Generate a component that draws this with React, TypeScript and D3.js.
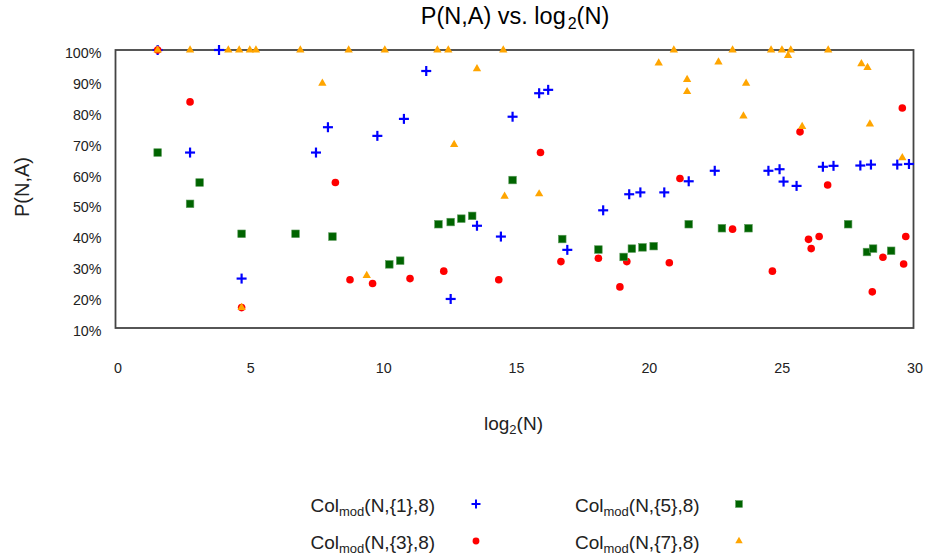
import React from "react";
import * as d3 from "d3";

const xTicks = [0, 5, 10, 15, 20, 25, 30];
const yTicks = [10, 20, 30, 40, 50, 60, 70, 80, 90, 100];

const s1X = [1.53, 3.84, 2.75, 4.69, 7.49, 7.94, 9.8, 10.8, 11.64, 12.56, 13.55, 14.45, 14.89, 15.89, 16.23, 16.95, 18.3, 19.28, 19.7, 20.6, 21.52, 22.5, 24.52, 24.94, 25.09, 25.58, 26.57, 26.97, 27.98, 28.38, 29.37, 29.81];
const s1Y = [100, 100, 66.8, 26.0, 66.8, 75.0, 72.2, 77.7, 93.2, 19.4, 43.1, 39.6, 78.4, 86.0, 87.1, 35.3, 48.1, 53.3, 53.9, 53.9, 57.5, 60.9, 60.9, 61.4, 57.4, 56.0, 62.2, 62.5, 62.6, 62.9, 62.9, 63.1];

const s3X = [1.53, 2.75, 4.69, 8.22, 8.77, 9.62, 11.03, 12.3, 14.37, 15.94, 16.71, 18.12, 18.93, 19.19, 20.79, 21.19, 23.17, 24.67, 25.71, 26.03, 26.13, 26.43, 26.75, 28.43, 28.83, 29.56, 29.69, 29.61];
const s3Y = [100, 83.2, 16.6, 57.1, 25.6, 24.4, 26.0, 28.4, 25.6, 66.8, 31.5, 32.6, 23.3, 31.5, 31.1, 58.4, 42.0, 28.4, 73.5, 38.7, 35.7, 39.6, 56.3, 21.7, 32.9, 81.2, 39.6, 30.7];

const s5X = [1.53, 2.75, 3.11, 4.69, 6.72, 8.11, 10.25, 10.66, 12.1, 12.56, 12.96, 13.37, 14.89, 16.76, 18.12, 19.07, 19.38, 19.78, 20.2, 21.52, 22.77, 23.77, 27.52, 28.23, 28.46, 29.14];
const s5Y = [66.8, 50.2, 57.1, 40.5, 40.5, 39.6, 30.6, 31.8, 43.6, 44.3, 45.4, 46.3, 57.9, 38.8, 35.4, 33.0, 35.7, 36.1, 36.5, 43.6, 42.3, 42.3, 43.6, 34.6, 35.7, 35.0];

const s7X = [1.53, 2.75, 4.19, 4.6, 5.0, 5.23, 6.9, 8.72, 10.08, 12.06, 12.47, 14.54, 20.96, 23.17, 24.62, 25.03, 25.36, 26.77, 7.73, 13.55, 12.69, 14.59, 9.4, 15.89, 20.39, 21.46, 21.46, 22.64, 23.68, 23.58, 25.79, 28.02, 28.25, 28.34, 29.56, 25.26, 4.69];
const s7Y = [100, 100, 100, 100, 100, 100, 100, 100, 100, 100, 100, 100, 100, 100, 100, 100, 100, 100, 89.2, 93.9, 69.4, 52.6, 27.0, 53.4, 95.8, 90.4, 86.5, 96.1, 89.2, 78.6, 75.2, 95.5, 94.3, 76.0, 65.1, 98.2, 16.6];

const seriesNames = ["{1}", "{3}", "{5}", "{7}"];
const seriesColors = ["#0000ff", "#ff0000", "#006400", "#ffa500"];

const FONT = "'Liberation Sans', Arial, sans-serif";

function Marker({ kind, cx, cy, color, s = 1 }: { kind: number; cx: number; cy: number; color: string; s?: number }) {
  if (kind === 0) {
    const h = 5 * s;
    return (
      <g stroke={color} strokeWidth={2.2 * s}>
        <line x1={cx - h} y1={cy} x2={cx + h} y2={cy} />
        <line x1={cx} y1={cy - h} x2={cx} y2={cy + h} />
      </g>
    );
  }
  if (kind === 1) return <circle cx={cx} cy={cy} r={3.8 * s} fill={color} />;
  if (kind === 2)
    return <rect x={cx - 3.8 * s} y={cy - 3.8 * s} width={7.6 * s} height={7.6 * s} fill={color} stroke="#5a9a5a" strokeWidth={0.6} />;
  const sym = d3.symbol().type(d3.symbolTriangle).size(30 * s * s);
  return <path d={sym() || ""} transform={`translate(${cx},${cy})`} fill={color} />;
}

export default function App() {
  const x = d3.scaleLinear().domain([0, 30]).range([117, 914]);
  const y = d3.scaleLinear().domain([10, 100]).range([328, 50]);
  const frameL = 115.5, frameR = 913.5;

  const series = [
    { xs: s1X, ys: s1Y },
    { xs: s3X, ys: s3Y },
    { xs: s5X, ys: s5Y },
    { xs: s7X, ys: s7Y },
  ];

  const legendPos = [
    { tx: 310.5, ty: 512, mx: 476, my: 504 },
    { tx: 310.5, ty: 549, mx: 476, my: 541 },
    { tx: 575, ty: 512, mx: 739, my: 504 },
    { tx: 575, ty: 549, mx: 739, my: 541 },
  ];

  return (
    <svg width={927} height={559} style={{ position: "absolute", left: 0, top: 0, background: "#fff" }} fontFamily={FONT}>
      <rect x={0} y={0} width={927} height={559} fill="#fff" />
      {/* Title */}
      <text x={515} y={24} fontSize={23.5} textAnchor="middle" fill="#000">
        P(N,A) vs. log<tspan dx={2} dy={5} fontSize={16}>2</tspan>
        <tspan dy={-5}>(N)</tspan>
      </text>

      {/* Y ticks labels */}
      {yTicks.map((t) => (
        <text key={t} x={101.5} y={y(t) + 8} fontSize={14.3} textAnchor="end" fill="#222">
          {t}%
        </text>
      ))}
      {/* X tick labels */}
      {xTicks.map((t) => (
        <text key={t} x={x(t) + 1} y={372.5} fontSize={14.3} textAnchor="middle" fill="#222">
          {t}
        </text>
      ))}

      {/* Axis titles */}
      <text x={513.5} y={430} fontSize={19} textAnchor="middle" fill="#222">
        log<tspan dy={4} fontSize={13}>2</tspan>
        <tspan dy={-4}>(N)</tspan>
      </text>
      <text transform={`translate(29,187) rotate(-90)`} fontSize={20} textAnchor="middle" fill="#222">
        P(N,A)
      </text>

      {/* Frame */}
      <rect x={frameL} y={y(100)} width={frameR - frameL} height={y(10) - y(100)} fill="none" stroke="#444" strokeWidth={1.8} />

      {/* Points */}
      {series.map((s, si) => (
        <g key={si}>
          {s.xs.map((xv, i) => (
            <Marker key={i} kind={si} cx={x(xv)} cy={y(s.ys[i])} color={seriesColors[si]} />
          ))}
        </g>
      ))}

      {/* Legend */}
      {seriesNames.map((n, i) => (
        <g key={n}>
          <text x={legendPos[i].tx} y={legendPos[i].ty} fontSize={19} fill="#222">
            Col<tspan dy={4} fontSize={13}>mod</tspan>
            <tspan dy={-4}>(N,{n},8)</tspan>
          </text>
          <Marker kind={i} cx={legendPos[i].mx} cy={legendPos[i].my} color={seriesColors[i]} s={0.9} />
        </g>
      ))}
    </svg>
  );
}
